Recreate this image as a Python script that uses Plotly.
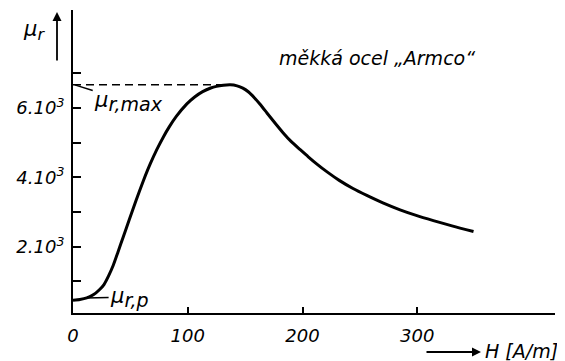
import plotly.graph_objects as go

# ---- data ----
H = [0, 6, 12, 18, 23, 27, 31, 35, 39, 44, 49, 55, 61, 67, 73, 79, 84, 90, 99,
     106, 113, 120, 125, 131, 137, 143, 148, 153, 158, 163, 169, 176, 183, 190,
     198, 205, 212, 222, 232, 244, 256, 270, 285, 299, 314, 331, 349]
mu_r = [460, 480, 525, 620, 760, 910, 1160, 1460, 1830, 2305, 2780, 3340, 3876,
        4367, 4800, 5183, 5465, 5759, 6115, 6322, 6476, 6580, 6627, 6657, 6670,
        6640, 6575, 6465, 6300, 6110, 5860, 5570, 5290, 5040, 4800, 4595, 4400,
        4145, 3915, 3680, 3480, 3265, 3065, 2905, 2755, 2595, 2440]

mu_max = 6670
H_at_max = 137
H_p, mu_p = 11, 520

x_tickvals = [0, 100, 200, 300]
x_ticktext = ["0", "100", "200", "300"]
y_tickvals = [1000, 2000, 3000, 4000, 5000, 6000, 7000]
y_ticktext = ["", "2.10<sup>3</sup>", "", "4.10<sup>3</sup>", "", "6.10<sup>3</sup>", ""]

title_text = "měkká ocel „Armco“"
x_label = "H [A/m]"

FONT = "DejaVu Sans"
OFF = 8                      # page body margin
W, HGT = 557, 353
L, T = 65, 2
pw, ph = 482, 303
R = W - L - pw
B = HGT - T - ph


def px(x):   # screen pixel -> paper x
    return (x - OFF - L) / pw


def py(y):   # screen pixel -> paper y
    return (OFF + T + ph - y) / ph


def sub(s, size):
    return "<sub><span style='font-size:%dpx'>%s</span></sub>" % (size, s)


fig = go.Figure()
fig.add_trace(go.Scatter(x=[0, H_at_max], y=[mu_max, mu_max], mode="lines",
                         line=dict(color="black", width=1.5, dash="8px,5px"),
                         hoverinfo="skip", showlegend=False))
fig.add_trace(go.Scatter(x=H, y=mu_r, mode="lines",
                         line=dict(color="black", width=3, shape="spline", smoothing=0.6),
                         showlegend=False))

annos = []
# y axis arrow and label
annos.append(dict(xref="paper", yref="paper", x=px(57), y=py(12), ax=0, ay=50,
                  text="", showarrow=True, arrowhead=2, arrowsize=1, arrowwidth=1.8,
                  arrowcolor="black"))
annos.append(dict(xref="paper", yref="paper", x=px(34), y=py(30), xanchor="center",
                  yanchor="middle", text="<i>μ" + sub("r", 16) + "</i>",
                  showarrow=False, font=dict(family=FONT, size=21, color="black")))
# title inside
annos.append(dict(xref="paper", yref="paper", x=px(277), y=py(58), xanchor="left",
                  yanchor="middle", text="<i>" + title_text + "</i>", showarrow=False,
                  font=dict(family=FONT, size=19, color="black")))
# mu_r,max
annos.append(dict(x=1.5, y=mu_max, xref="x", yref="y", ax=54, ay=17,
                  text="<i>μ" + sub("r,max", 19) + "</i>", showarrow=True, arrowhead=0,
                  arrowwidth=1.5, arrowcolor="black", standoff=0,
                  font=dict(family=FONT, size=21, color="black")))
# mu_r,p
annos.append(dict(x=H_p, y=mu_p, xref="x", yref="y", ax=44, ay=-1,
                  text="<i>μ" + sub("r,p", 19) + "</i>", showarrow=True, arrowhead=0,
                  arrowwidth=1.5, arrowcolor="black", standoff=0,
                  font=dict(family=FONT, size=21, color="black")))
# H axis arrow and label
annos.append(dict(xref="paper", yref="paper", x=px(481), y=py(352), ax=-56, ay=0,
                  text="", showarrow=True, arrowhead=2, arrowsize=1, arrowwidth=1.8,
                  arrowcolor="black"))
annos.append(dict(xref="paper", yref="paper", x=px(483), y=py(351), xanchor="left",
                  yanchor="middle", text="<i>" + x_label + "</i>", showarrow=False,
                  font=dict(family=FONT, size=19, color="black")))

fig.update_layout(
    width=W, height=HGT,
    margin=dict(l=L, r=R, t=T, b=B, pad=0),
    paper_bgcolor="white", plot_bgcolor="white",
    showlegend=False,
    annotations=annos,
    xaxis=dict(range=[0, 420], showgrid=False, zeroline=False, showline=True,
               linecolor="black", linewidth=2, ticks="inside", ticklen=6,
               tickwidth=1.5, tickcolor="black", tickvals=x_tickvals,
               ticktext=x_ticktext, ticklabelstandoff=5,
               tickfont=dict(family=FONT, size=18, color="black", style="italic")),
    yaxis=dict(range=[89, 8830], showgrid=False, zeroline=False, showline=True,
               linecolor="black", linewidth=2, ticks="inside", ticklen=8,
               tickwidth=1.5, tickcolor="black", tickvals=y_tickvals,
               ticktext=y_ticktext, ticklabelstandoff=3,
               tickfont=dict(family=FONT, size=18, color="black", style="italic")),
)

fig.write_html("out.html")
